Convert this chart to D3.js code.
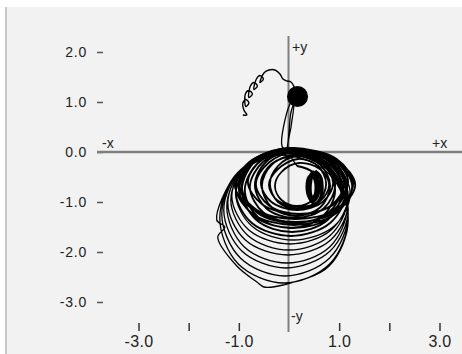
<!DOCTYPE html>
<html>
<head>
<meta charset="utf-8">
<script src="https://cdn.jsdelivr.net/npm/d3@7"></script>
<style>
body { margin: 0; background: #fff; }
svg { display: block; font-family: "Liberation Sans", Arial, sans-serif; }
</style>
</head>
<body>
<svg id="chart" width="462" height="354"></svg>
<script>
'use strict';
// ticks and labels
var xTicks = [-3, -2, -1, 1, 2, 3];
var xLabels = {"-3": "-3.0", "-1": "-1.0", "1": "1.0", "3": "3.0"};
var yTicks = [2, 1, 0, -1, -2, -3];
var yLabels = ["2.0", "1.0", "0.0", "-1.0", "-2.0", "-3.0"];

// curly tail at the top
var tail = [[-0.92, 0.74], [-0.84, 0.74], [-0.90, 0.84],
    [-0.92, 0.98], [-0.86, 1.05], [-0.80, 0.98], [-0.86, 0.91],
    [-0.87, 1.16], [-0.80, 1.23], [-0.73, 1.16], [-0.80, 1.09],
    [-0.77, 1.32], [-0.70, 1.39], [-0.63, 1.32], [-0.70, 1.25],
    [-0.65, 1.46], [-0.58, 1.53], [-0.51, 1.46], [-0.58, 1.39],
    [-0.50, 1.58], [-0.40, 1.64], [-0.28, 1.64], [-0.18, 1.56], [-0.12, 1.46],
    [-0.04, 1.42], [0.04, 1.40], [0.12, 1.26], [0.16, 1.12]];
var knot = [[0.17, 1.11]];
var stem = [[0.16, 1.12], [0.02, 0.96], [-0.14, 0.12], [-0.06, 0.04], [0.04, 0.80], [0.10, 0.96],
    [0.04, 0.50], [-0.02, 0.06], [0.16, -0.28]];

// dense ring just under the x axis
var ringInner = [
    [0.16, -0.28], [0.47, -0.40], [0.60, -0.68], [0.47, -0.96], [0.16, -1.08], [-0.15, -0.96], [-0.28, -0.68], [-0.15, -0.40],
    [0.20, -0.22], [0.63, -0.35], [0.80, -0.66], [0.63, -0.97], [0.20, -1.10], [-0.23, -0.97], [-0.40, -0.66], [-0.23, -0.35],
    [0.18, -0.14], [0.58, -0.28], [0.74, -0.64], [0.58, -1.00], [0.18, -1.14], [-0.22, -1.00], [-0.38, -0.64], [-0.22, -0.28],
    [0.16, -0.08], [0.67, -0.24], [0.88, -0.62], [0.67, -1.00], [0.16, -1.16], [-0.35, -1.00], [-0.56, -0.62], [-0.35, -0.24],
    [0.14, -0.08], [0.62, -0.25], [0.82, -0.68], [0.62, -1.11], [0.14, -1.28], [-0.34, -1.11], [-0.54, -0.68], [-0.34, -0.25],
    [0.22, -0.04], [0.84, -0.21], [1.10, -0.64], [0.84, -1.07], [0.22, -1.24], [-0.40, -1.07], [-0.66, -0.64], [-0.40, -0.21],
    [0.12, 0.00], [0.69, -0.19], [0.92, -0.66], [0.69, -1.13], [0.12, -1.32], [-0.45, -1.13], [-0.68, -0.66], [-0.45, -0.19],
    [0.18, 0.04], [0.89, -0.15], [1.18, -0.60], [0.89, -1.05], [0.18, -1.24], [-0.53, -1.05], [-0.82, -0.60], [-0.53, -0.15],
    [0.14, 0.02], [0.79, -0.19], [1.06, -0.70], [0.79, -1.21], [0.14, -1.42], [-0.51, -1.21], [-0.78, -0.70], [-0.51, -0.19],
    [0.02, 0.00], [0.66, -0.22], [0.92, -0.76], [0.66, -1.30], [0.02, -1.52], [-0.62, -1.30], [-0.88, -0.76], [-0.62, -0.22],
    [0.10, 0.06], [0.84, -0.15], [1.14, -0.68], [0.84, -1.21], [0.10, -1.42], [-0.64, -1.21], [-0.94, -0.68], [-0.64, -0.15],
    [0.14, 0.06], [0.95, -0.14], [1.28, -0.64], [0.95, -1.14], [0.14, -1.34], [-0.67, -1.14], [-1.00, -0.64], [-0.67, -0.14],
    [0.14, 0.04], [0.94, -0.17], [1.26, -0.68], [0.94, -1.19], [0.14, -1.40], [-0.66, -1.19], [-0.98, -0.68], [-0.66, -0.17],
    [0.12, 0.02], [0.97, -0.18], [1.32, -0.66], [0.97, -1.14], [0.12, -1.34], [-0.73, -1.14], [-1.08, -0.66], [-0.73, -0.18],
    [0.10, 0.06], [0.92, -0.16], [1.26, -0.70], [0.92, -1.24], [0.10, -1.46], [-0.72, -1.24], [-1.06, -0.70], [-0.72, -0.16],
    [0.08, 0.08], [0.85, -0.15], [1.16, -0.72], [0.85, -1.29], [0.08, -1.52], [-0.69, -1.29], [-1.00, -0.72], [-0.69, -0.15],
    [0.06, 0.08], [0.77, -0.16], [1.06, -0.76], [0.77, -1.36], [0.06, -1.60], [-0.65, -1.36], [-0.94, -0.76], [-0.65, -0.16],
    [0.04, 0.08], [0.82, -0.18], [1.14, -0.80], [0.82, -1.42], [0.04, -1.68], [-0.74, -1.42], [-1.06, -0.80], [-0.74, -0.18]
];

// tight loops that blacken the right side of the hole
var hook = [
    [0.52, -0.38], [0.62, -0.48], [0.66, -0.70], [0.62, -0.94], [0.52, -1.04], [0.42, -0.94], [0.36, -0.70], [0.42, -0.48],
    [0.48, -0.40], [0.56, -0.50], [0.60, -0.70], [0.56, -0.90], [0.48, -0.98], [0.40, -0.90], [0.36, -0.70], [0.40, -0.50],
    [0.50, -0.44], [0.56, -0.54], [0.58, -0.72], [0.56, -0.88], [0.50, -0.96], [0.44, -0.88], [0.42, -0.72], [0.44, -0.54],
    [0.46, -0.46], [0.52, -0.56], [0.54, -0.72], [0.52, -0.86], [0.46, -0.92], [0.40, -0.86], [0.38, -0.72], [0.40, -0.56]
];

// wider loops sagging down toward -2.6
var ringOuter = [
    [0.08, 0.08], [0.89, -0.19], [1.22, -0.84], [0.89, -1.49], [0.08, -1.76], [-0.73, -1.49], [-1.06, -0.84], [-0.73, -0.19],
    [0.02, 0.08], [0.84, -0.20], [1.18, -0.88], [0.84, -1.56], [0.02, -1.84], [-0.80, -1.56], [-1.14, -0.88], [-0.80, -0.20],
    [0.00, 0.04], [0.82, -0.25], [1.16, -0.96], [0.82, -1.67], [0.00, -1.96], [-0.82, -1.67], [-1.16, -0.96], [-0.82, -0.25],
    [-0.02, 0.02], [0.83, -0.28], [1.18, -1.02], [0.83, -1.76], [-0.02, -2.06], [-0.87, -1.76], [-1.22, -1.02], [-0.87, -0.28],
    [-0.04, 0.02], [0.81, -0.30], [1.16, -1.10], [0.81, -1.90], [-0.04, -2.22], [-0.89, -1.90], [-1.24, -1.10], [-0.89, -0.30],
    [-0.06, 0.00], [0.82, -0.34], [1.18, -1.16], [0.82, -1.98], [-0.06, -2.32], [-0.94, -1.98], [-1.30, -1.16], [-0.94, -0.34],
    [-0.08, 0.00], [0.81, -0.36], [1.18, -1.24], [0.81, -2.12], [-0.08, -2.48], [-0.97, -2.12], [-1.34, -1.24], [-0.97, -0.36],
    [-0.10, -0.02], [0.81, -0.40], [1.18, -1.32], [0.81, -2.24], [-0.10, -2.62], [-1.01, -2.24], [-1.38, -1.32], [-1.01, -0.40],
    [-0.12, -0.06], [0.80, -0.44], [1.18, -1.36], [0.80, -2.28], [-0.12, -2.66], [-0.50, -2.70], [-0.64, -2.60], [-1.04, -2.28],
    [-1.42, -1.70], [-1.28, -1.50], [-1.44, -1.36], [-1.04, -0.44], [-0.40, -0.10]
];

var svg = d3.select("#chart");
// panel background + left border
svg.append("rect").attr("x", 7).attr("y", 7).attr("width", 455).attr("height", 347).attr("fill", "#f2f2f2");
svg.append("line").attr("x1", 6).attr("x2", 6).attr("y1", 7).attr("y2", 354)
        .attr("stroke", "#c8c8c8").attr("stroke-width", 2);

var x = d3.scaleLinear().domain([-3, 3]).range([138.5, 439.5]);
var y = d3.scaleLinear().domain([-3, 2]).range([302, 52]);

// y axis: labels and little dashes on the left
var yAxis = d3.axisLeft(y).tickValues(yTicks).tickSize(6).tickPadding(10)
        .tickFormat(function (d, i) { return yLabels[i]; });
var gy = svg.append("g").attr("transform", "translate(103,0)").call(yAxis);
gy.select(".domain").remove();
gy.selectAll("line").attr("stroke", "#555").attr("stroke-width", 1.5);
gy.selectAll("text").attr("fill", "#222").style("font-size", "14px").style("letter-spacing", "0.8px")
        .attr("font-family", null);

// x axis at the bottom
var xAxis = d3.axisBottom(x).tickValues(xTicks).tickSize(8).tickPadding(5)
        .tickFormat(function (d) { return xLabels[d] || ""; });
var gx = svg.append("g").attr("transform", "translate(0,323)").call(xAxis);
gx.select(".domain").remove();
gx.selectAll("line").attr("stroke", "#333").attr("stroke-width", 1.5);
gx.selectAll("text").attr("fill", "#222").style("font-size", "16px").style("letter-spacing", "0.3px")
        .attr("font-family", null);

// cross hairs through the origin
svg.append("line").attr("x1", 97).attr("x2", 462).attr("y1", y(0)).attr("y2", y(0))
        .attr("stroke", "#7f7f7f").attr("stroke-width", 2.5);
svg.append("line").attr("x1", x(0) - 0.5).attr("x2", x(0) - 0.5).attr("y1", 36).attr("y2", 332)
        .attr("stroke", "#7f7f7f").attr("stroke-width", 2);

var axisNames = [
    {t: "-x", px: 102, py: 148},
    {t: "+x", px: 432, py: 148},
    {t: "+y", px: 292, py: 52},
    {t: "-y", px: 291, py: 321}
];
svg.selectAll(".axname").data(axisNames).enter().append("text")
        .attr("class", "axname")
        .attr("x", function (d) { return d.px; })
        .attr("y", function (d) { return d.py; })
        .attr("fill", "#222").style("font-size", "14px")
        .text(function (d) { return d.t; });

// trajectory
var line = d3.line()
        .x(function (d) { return x(d[0]); })
        .y(function (d) { return y(d[1]); })
        .curve(d3.curveCatmullRom);
var pieces = [
    {pts: tail, w: 1.4},
    {pts: stem, w: 1.3},
    {pts: ringOuter, w: 1.3},
    {pts: ringInner, w: 1.8},
    {pts: hook, w: 3.2}
];
pieces.forEach(function (p) {
    svg.append("path").datum(p.pts)
            .attr("d", line)
            .attr("fill", "none")
            .attr("stroke", "#000")
            .attr("stroke-width", p.w);
});
svg.selectAll(".knot").data(knot).enter().append("circle")
        .attr("class", "knot")
        .attr("cx", function (d) { return x(d[0]); })
        .attr("cy", function (d) { return y(d[1]); })
        .attr("r", 10.5)
        .attr("fill", "#000");
</script>
</body>
</html>
